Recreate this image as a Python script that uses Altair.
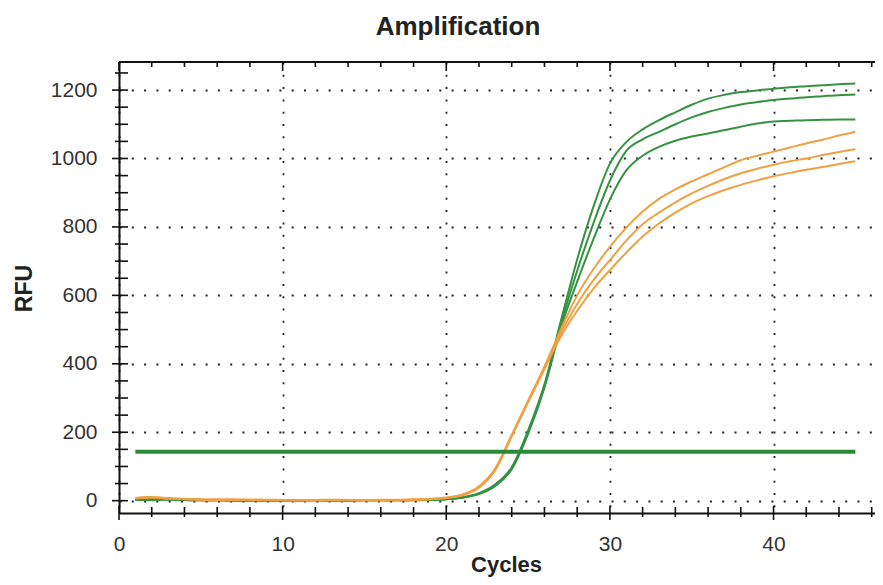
import altair as alt
import pandas as pd

# ---- data ----
cycles = list(range(1, 46))

green_1 = [3, 5, 4, 3, 2, 1, 2, 1, 0, 1, 2, 1, 0, 1, 1, 2, 1, 2, 3,
           5, 10, 22, 48, 98, 205, 340, 525, 705, 860, 985, 1048, 1085, 1112,
           1135, 1157, 1175, 1186, 1194, 1199, 1204, 1208, 1211, 1214, 1217, 1219]
green_2 = [2, 4, 3, 2, 1, 2, 1, 0, 1, 0, 1, 2, 1, 0, 1, 1, 2, 1, 2,
           4, 9, 20, 45, 95, 200, 335, 515, 672, 812, 935, 1022, 1056, 1078,
           1100, 1120, 1136, 1148, 1158, 1165, 1171, 1175, 1179, 1182, 1185, 1187]
green_3 = [3, 2, 4, 2, 1, 1, 0, 1, 2, 1, 0, 1, 1, 0, 2, 1, 1, 2, 2,
           4, 9, 19, 43, 92, 195, 330, 505, 640, 765, 880, 965, 1008, 1034,
           1052, 1064, 1073, 1083, 1093, 1102, 1108, 1110, 1112, 1113, 1114, 1114]
orange_1 = [8, 11, 7, 5, 4, 3, 4, 2, 3, 2, 1, 2, 3, 2, 1, 3, 2, 4, 5,
            9, 18, 42, 95, 192, 292, 392, 500, 600, 677, 742, 798, 845, 882,
            910, 933, 954, 975, 995, 1008, 1020, 1032, 1044, 1055, 1067, 1078]
orange_2 = [6, 9, 8, 4, 3, 4, 2, 3, 2, 1, 2, 2, 1, 2, 2, 1, 3, 3, 4,
            8, 17, 40, 92, 190, 290, 388, 490, 575, 645, 703, 760, 808, 842,
            872, 898, 920, 940, 957, 970, 982, 992, 1000, 1010, 1019, 1027]
orange_3 = [7, 10, 6, 5, 3, 2, 3, 3, 2, 2, 1, 1, 2, 1, 2, 2, 2, 3, 4,
            8, 16, 38, 90, 188, 288, 385, 480, 555, 620, 674, 725, 772, 810,
            842, 869, 890, 908, 923, 936, 948, 958, 967, 975, 984, 992]

series = {
    "G1": ("green", green_1), "G2": ("green", green_2), "G3": ("green", green_3),
    "O1": ("orange", orange_1), "O2": ("orange", orange_2), "O3": ("orange", orange_3),
}

threshold_value = 143
threshold_cycles = [1, 45]

x_major = [0, 10, 20, 30, 40]
x_minor = [v for v in range(0, 47, 2) if v % 10 != 0]
y_major = [0, 200, 400, 600, 800, 1000, 1200]
y_minor = [v for v in range(0, 1300, 50) if v % 200 != 0]

# ---- tables ----
rows = []
for well, (kind, vals) in series.items():
    for c, v in zip(cycles, vals):
        rows.append({"cycle": c, "rfu": v, "well": well, "kind": kind})
df = pd.DataFrame(rows)

W, H = 756, 451
FONT = "Liberation Sans"
xs = alt.Scale(domain=[0, 46.2], nice=False, zero=False)
ys = alt.Scale(domain=[-36, 1282], nice=False, zero=False)

xaxis = alt.Axis(values=x_major, grid=True, ticks=False, labelPadding=20,
                 format="d", titleFontSize=22,
                 title="Cycles", titleX=387, titleY=51, titleAlign="center",
                 titleBaseline="middle")
yaxis = alt.Axis(values=y_major, grid=True, ticks=False, labelPadding=22,
                 format="d", titleFontSize=23,
                 title="RFU", titleX=-95, titleY=226, titleAngle=-90,
                 titleAlign="center", titleBaseline="middle")


def X(field="cycle"):
    return alt.X(f"{field}:Q", scale=xs, axis=xaxis)


def Y(field="rfu"):
    return alt.Y(f"{field}:Q", scale=ys, axis=yaxis)


lines = alt.Chart(df).mark_line(strokeWidth=2, interpolate="monotone").encode(
    x=X(), y=Y(),
    color=alt.Color("kind:N", scale=alt.Scale(domain=["green", "orange"],
                                              range=["#359240", "#f0a040"]),
                    legend=None),
    detail="well:N",
)

thr_df = pd.DataFrame({"cycle": [threshold_cycles[0]], "cycle_end": [threshold_cycles[1]],
                       "rfu": [threshold_value]})
threshold = alt.Chart(thr_df).mark_rule(color="#2a8a38", strokeWidth=4).encode(
    x=X(), x2="cycle_end:Q", y=Y())

tick_style = dict(color="#111", strokeWidth=1.6)


def xticks(vals, a, b):
    return alt.Chart(pd.DataFrame({"cycle": vals})).mark_rule(**tick_style).encode(
        x=X(), y=alt.value(a), y2=alt.value(b))


def yticks(vals, a, b):
    return alt.Chart(pd.DataFrame({"rfu": vals})).mark_rule(**tick_style).encode(
        y=Y(), x=alt.value(a), x2=alt.value(b))


top_line = alt.Chart(pd.DataFrame({"t": [0]})).mark_rule(color="#111", strokeWidth=2).encode(
    x=alt.value(0), x2=alt.value(W), y=alt.value(0))

chart = alt.layer(
    lines, threshold,
    xticks(x_minor, H - 6, H + 4), xticks(x_major, H - 7, H + 7),
    xticks(x_minor, 0, 5), xticks(x_major, 0, 9),
    yticks(y_minor, -4, 9), yticks(y_major, -7, 9),
    top_line,
).properties(
    width=W, height=H,
    title=alt.TitleParams("Amplification", anchor="middle", dx=-39,
                          fontSize=26, font=FONT, fontWeight="bold",
                          color="#222", offset=0, baseline="alphabetic"),
    autosize=alt.AutoSizeParams(type="none"),
    padding={"left": 111, "top": 54, "right": 0, "bottom": 64},
    background="white",
).configure_view(stroke=None).configure_axis(
    domainColor="#111", domainWidth=2,
    gridColor="#222", gridDash=[2, 10.3], gridWidth=1.8, gridOpacity=1,
    labelFont=FONT, labelFontSize=21, labelColor="#333",
    titleFont=FONT, titleFontWeight="bold", titleColor="#222",
).configure_axisX(labelAlign="center", labelBaseline="top"
).configure_axisY(labelAlign="right", labelBaseline="middle")

chart.save("out.html", embed_options={"renderer": "svg", "actions": False})
